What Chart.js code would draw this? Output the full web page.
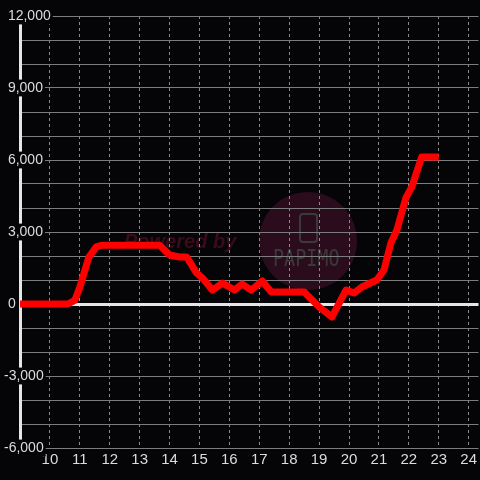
<!DOCTYPE html>
<html lang="en">
<head>
<meta charset="UTF-8">
<title>Daily line</title>
<style>
  html, body { margin: 0; padding: 0; background: #050507; }
  #wrap { width: 480px; height: 480px; }
</style>
</head>
<body>
<div id="wrap"><canvas id="chart"></canvas></div>

<script src="https://cdn.jsdelivr.net/npm/chart.js@4.4.1/dist/chart.umd.min.js"></script>
<script>
  // hour of day -> value
  const hours  = [9, 10.6, 10.83, 11.0, 11.3, 11.55, 11.75, 13.67, 14.0, 14.33, 14.57, 14.9, 15.1, 15.43, 15.77, 16.17, 16.43, 16.73, 17.1, 17.4, 18.5, 18.77, 19.0, 19.43, 19.9, 20.17, 20.43, 20.93, 21.17, 21.4, 21.6, 21.9, 22.1, 22.43, 23.0];
  const values = [0, 0, 150, 700, 1950, 2380, 2450, 2450, 2040, 1960, 1960, 1300, 1080, 580, 870, 580, 830, 580, 960, 500, 500, 170, -120, -540, 580, 460, 710, 1000, 1420, 2540, 3080, 4420, 4880, 6130, 6130];

  const xTicks = [10, 11, 12, 13, 14, 15, 16, 17, 18, 19, 20, 21, 22, 23, 24];
  const yLabelled = [-6000, -3000, 0, 3000, 6000, 9000, 12000];

  const BG = "#050507";

  const background = {
    id: "background",
    beforeDraw(chart) {
      const c = chart.ctx;
      c.save();
      c.fillStyle = BG;
      c.fillRect(0, 0, chart.width, chart.height);

      // faint watermark, under the grid and the line
      c.fillStyle = "#2b0c1d";
      c.beginPath();
      c.arc(308, 241, 49, 0, Math.PI * 2);
      c.fill();
      c.fillStyle = "#3a0b19";
      c.font = "italic bold 20px 'Liberation Sans', Arial, sans-serif";
      c.textBaseline = "alphabetic";
      c.fillText("Powered by", 124, 248);
      c.strokeStyle = "#3a3a3a";
      c.lineWidth = 2;
      c.beginPath();
      c.roundRect(300, 214, 17, 28, 3);
      c.stroke();
      c.translate(273, 266);
      c.scale(0.8, 1);
      c.fillStyle = "#3a3a3a";
      c.font = "23px 'DejaVu Sans Mono', monospace";
      c.fillText("PAPIMO", 0, 0);
      c.restore();
    }
  };

  const ctx = document.getElementById("chart").getContext("2d");
  const chart = new Chart(ctx, {
    type: "line",
    data: {
      datasets: [{
        data: hours.map((h, i) => ({ x: h, y: values[i] })),
        borderColor: "#ff0000",
        borderWidth: 7,
        borderJoinStyle: "round",
        pointRadius: 0,
        tension: 0,
        fill: false
      }]
    },
    options: {
      responsive: true,
      maintainAspectRatio: false,
      animation: false,
      layout: { padding: { left: 4, top: 16, right: 0, bottom: 0 } },
      plugins: { legend: { display: false }, tooltip: { enabled: false } },
      scales: {
        x: {
          type: "linear",
          min: 9,
          max: 24.33,
          afterBuildTicks: s => { s.ticks = xTicks.map(v => ({ value: v })); },
          afterFit: s => { s.height = 32; },
          grid: { color: "#8a8a8a", lineWidth: 1, drawTicks: false },
          border: { display: false, dash: [3, 3] },
          ticks: {
            autoSkip: false,
            maxRotation: 0,
            padding: 3,
            color: "#dcdcdc",
            font: { family: "'Liberation Sans', Arial, sans-serif", size: 15 }
          }
        },
        y: {
          min: -6000,
          max: 12000,
          afterFit: s => { s.width = 16; },
          grid: {
            color: c => (c.tick && c.tick.value === 0) ? "#e6e6e6" : "#7d7d7d",
            lineWidth: c => (c.tick && c.tick.value === 0) ? 3 : 1,
            drawTicks: false
          },
          border: { display: true, color: "#e6e6e6", width: 3 },
          ticks: {
            stepSize: 1000,
            autoSkip: false,
            mirror: true,
            crossAlign: "near",
            padding: -16,
            color: "#dcdcdc",
            font: { family: "'Liberation Sans', Arial, sans-serif", size: 14 },
            callback: v => yLabelled.includes(v) ? (v < 0 ? "" : " ") + v.toLocaleString("en-US") : "",
            showLabelBackdrop: true,
            backdropColor: c => yLabelled.includes(c.tick.value) ? BG : "rgba(0,0,0,0)",
            backdropPadding: { top: 0, bottom: 0, left: 2, right: 2 }
          }
        }
      }
    },
    plugins: [background]
  });
</script>
</body>
</html>
